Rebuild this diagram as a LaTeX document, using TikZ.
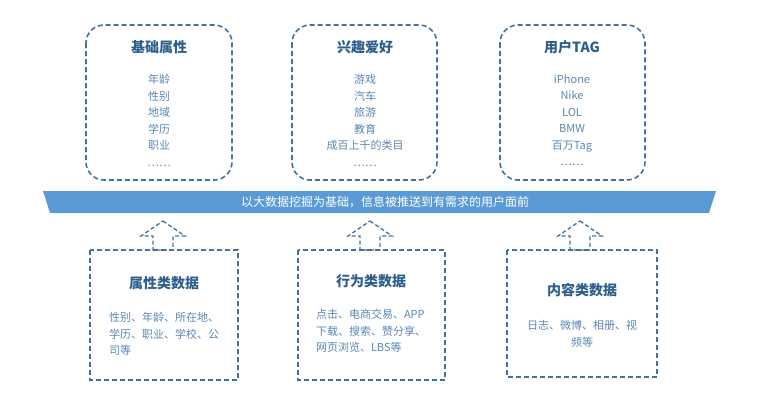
\documentclass[tikz,border=0pt]{standalone}
\usepackage{fontspec}
\setmainfont{Noto Sans CJK SC}
\definecolor{edgeblue}{HTML}{41719C}
\definecolor{titleblue}{HTML}{2E5F8A}
\definecolor{itemblue}{HTML}{5A86B5}
\definecolor{bandblue}{HTML}{5B9BD5}
\tikzset{
  topbox/.style={draw=edgeblue, line width=1.6pt, dash pattern=on 5pt off 3pt, rounded corners=18pt},
  botbox/.style={draw=edgeblue, line width=1.6pt, dash pattern=on 5pt off 3pt},
  head/.style={text=titleblue, font=\fontsize{14}{16}\selectfont\bfseries},
  item/.style={text=itemblue, font=\fontsize{11}{16.5}\selectfont, align=center},
  body/.style={text=itemblue, font=\fontsize{11}{16.5}\selectfont, align=left},
  hollow/.style={draw=edgeblue, line width=1.3pt, dash pattern=on 4pt off 2.5pt}
}
\begin{document}
\begin{tikzpicture}[x=1pt, y=-1pt]
	\useasboundingbox (0,0) rectangle (760,400);

	% Upper boxes
	\draw[topbox] (86,25) rectangle (232,180);
	\draw[topbox] (292,25) rectangle (437,180);
	\draw[topbox] (500,25) rectangle (645,180);
	\node[head] (basic) at (159,47) {基础属性};
	\node[head] (hobby) at (365,47) {兴趣爱好};
	\node[head] (tag) at (572,47) {用户TAG};
	\node[item, anchor=north] (basiclist) at (159,71) {年龄\\性别\\地域\\学历\\职业\\……};
	\node[item, anchor=north] (hobbylist) at (365,71) {游戏\\汽车\\旅游\\教育\\成百上千的类目\\……};
	\node[item, anchor=north] (taglist) at (572,71) {iPhone\\Nike\\LOL\\BMW\\百万Tag\\……};

	% Banner
	\fill[bandblue] (43,191) -- (716,191) -- (709,213) -- (50,213) -- cycle;
	\node[text=white, font=\fontsize{12}{14}\selectfont] (band) at (385,202) {以大数据挖掘为基础，信息被推送到有需求的用户面前};

	% Hollow arrows
	\foreach \x in {163,370,580} {
		\draw[hollow] (\x,221) -- (\x+22,236) -- (\x+10,236) -- (\x+10,250)
			-- (\x-10,250) -- (\x-10,236) -- (\x-22,236) -- cycle;
	}

	% Lower boxes
	\draw[botbox] (90,250) rectangle (238,380);
	\draw[botbox] (298,250) rectangle (445,380);
	\draw[botbox] (507,250) rectangle (657,377);
	\node[head] (attr) at (164,283) {属性类数据};
	\node[head] (act) at (371,281) {行为类数据};
	\node[head] (cont) at (582,290) {内容类数据};
	\node[body] (attrtext) at (164,334) {性别、年龄、所在地、\\学历、职业、学校、公\\司等};
	\node[body] (acttext) at (371,331) {点击、电商交易、APP\\下载、搜索、赞分享、\\网页浏览、LBS等};
	\node[item] (conttext) at (582,334) {日志、微博、相册、视\\频等};

\end{tikzpicture}
\end{document}
